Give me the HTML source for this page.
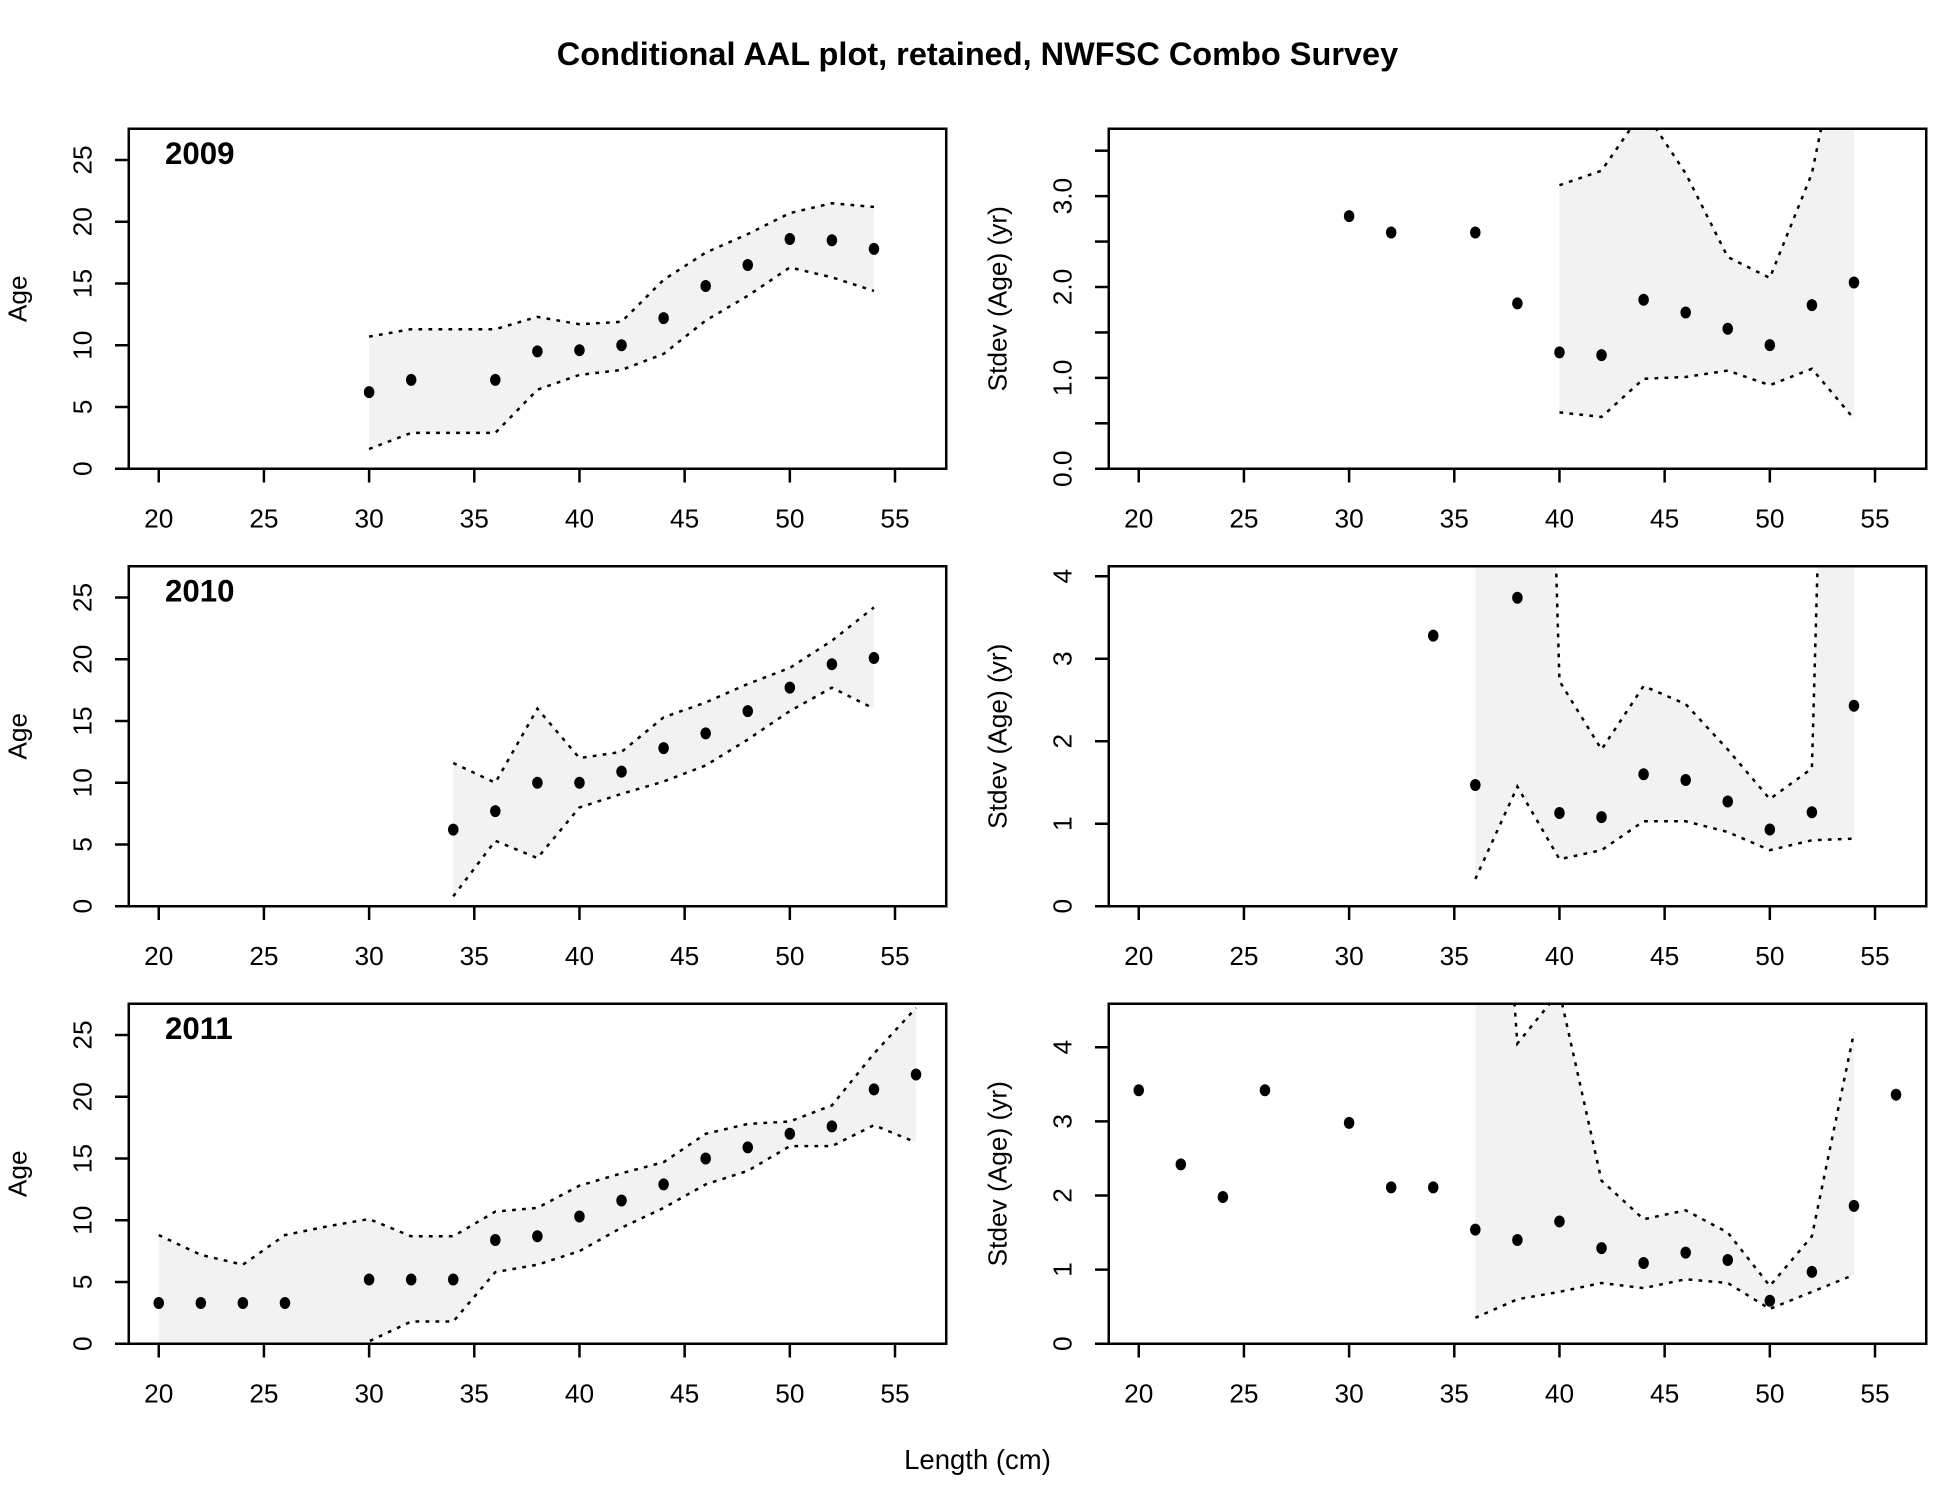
<!DOCTYPE html>
<html><head><meta charset="utf-8"><style>
html,body{margin:0;padding:0;background:#fff;}
svg{display:block;font-family:"Liberation Sans",Arial,sans-serif;}
</style></head><body>
<svg id="chart" width="1950" height="1500" viewBox="0 0 1560 1200" xmlns="http://www.w3.org/2000/svg">
<text x="782" y="52" text-anchor="middle" font-size="26" font-weight="bold">Conditional AAL plot, retained, NWFSC Combo Survey</text>
<text x="782" y="1175" text-anchor="middle" font-size="22">Length (cm)</text>
</svg>
<script>
// ---- data arrays ----
const xTicks = [20,25,30,35,40,45,50,55];
// 2009 age
const a09X = [30,32,36,38,40,42,44,46,48,50,52,54];
const a09Y = [6.2,7.2,7.2,9.5,9.6,10.0,12.2,14.8,16.5,18.6,18.5,17.8];
const a09BX = [30,32,34,36,38,40,42,44,46,48,50,52,54];
const a09Up = [10.7,11.3,11.3,11.3,12.3,11.7,11.9,15.3,17.5,19.0,20.7,21.5,21.2];
const a09Lo = [1.6,2.9,2.9,2.9,6.4,7.6,8.0,9.3,12.0,14.0,16.3,15.5,14.4];
// 2009 sd
const s09X = [30,32,36,38,40,42,44,46,48,50,52,54];
const s09Y = [2.78,2.6,2.6,1.82,1.28,1.25,1.86,1.72,1.54,1.36,1.8,2.05];
const s09BX = [40,42,44,46,48,50,52,54];
const s09Up = [3.12,3.28,3.95,3.25,2.33,2.1,3.25,5.5];
const s09Lo = [0.62,0.57,0.99,1.01,1.08,0.92,1.1,0.55];
// 2010 age
const a10X = [34,36,38,40,42,44,46,48,50,52,54];
const a10Y = [6.2,7.7,10.0,10.0,10.9,12.8,14.0,15.8,17.7,19.6,20.1];
const a10BX = [34,36,38,40,42,44,46,48,50,52,54];
const a10Up = [11.6,10.0,16.0,12.0,12.5,15.3,16.5,18.0,19.3,21.5,24.2];
const a10Lo = [0.8,5.3,3.9,8.0,9.1,10.1,11.4,13.5,15.8,17.7,16.0];
// 2010 sd
const s10X = [34,36,38,40,42,44,46,48,50,52,54];
const s10Y = [3.28,1.47,3.74,1.13,1.08,1.6,1.53,1.27,0.93,1.14,2.43];
const s10BX = [36,38,40,42,44,46,48,50,52,54];
const s10Up = [20,20,2.73,1.9,2.67,2.45,1.9,1.3,1.67,20];
const s10Lo = [0.33,1.45,0.57,0.68,1.03,1.03,0.9,0.68,0.8,0.82];
// 2011 age
const a11X = [20,22,24,26,30,32,34,36,38,40,42,44,46,48,50,52,54,56];
const a11Y = [3.3,3.3,3.3,3.3,5.2,5.2,5.2,8.4,8.7,10.3,11.6,12.9,15.0,15.9,17.0,17.6,20.6,21.8];
const a11BX = [20,22,24,26,28,30,32,34,36,38,40,42,44,46,48,50,52,54,56];
const a11Up = [8.8,7.2,6.4,8.8,9.5,10.1,8.7,8.7,10.7,11.0,12.8,13.8,14.7,17.0,17.8,18.0,19.3,23.5,27.2];
const a11Lo = [-3,-3,-3,-3,-1.5,0.2,1.8,1.8,5.8,6.4,7.5,9.4,11.0,12.9,14.0,16.0,16.0,17.7,16.3];
// 2011 sd
const s11X = [20,22,24,26,30,32,34,36,38,40,42,44,46,48,50,52,54,56];
const s11Y = [3.42,2.42,1.98,3.42,2.98,2.11,2.11,1.54,1.4,1.65,1.29,1.09,1.23,1.13,0.58,0.97,1.86,3.36];
const s11BX = [36,38,40,42,44,46,48,50,52,54];
const s11Up = [12,4.05,4.75,2.2,1.68,1.8,1.5,0.78,1.45,4.2];
const s11Lo = [0.35,0.6,0.7,0.82,0.75,0.87,0.82,0.47,0.7,0.93];
const ageTicks = [0,5,10,15,20,25];
const sd09Ticks = [0,0.5,1,1.5,2,2.5,3,3.5];
const sd09Labels = ["0.0","","1.0","","2.0","","3.0",""];
const sdTicks = [0,1,2,3,4];

const NS = "http://www.w3.org/2000/svg";
const svg = document.getElementById('chart');
function mk(tag, attrs, parent){const e=document.createElementNS(NS,tag);for(const k in attrs)e.setAttribute(k,attrs[k]);(parent||svg).appendChild(e);return e;}

let clipId=0;
function panel(o){
  const L=o.left,R=o.left+654,T=o.top,B=o.top+272;
  const x0=o.left+24, pxPer=(589/35);
  const sx=v=>x0+(v-20)*pxPer;
  const sy=v=>B-v*o.ppu;
  const g=mk('g',{});
  
  
  const cid='clip'+(clipId++);
  const cp=mk('clipPath',{id:cid},g); mk('rect',{x:L,y:T,width:654,height:272},cp);
  const inner=mk('g',{'clip-path':'url(#'+cid+')'},g);
  let d='';
  o.bx.forEach((v,i)=>{d+=(i?'L':'M')+sx(v)+','+sy(o.up[i]);});
  for(let i=o.bx.length-1;i>=0;i--) d+='L'+sx(o.bx[i])+','+sy(o.lo[i]);
  const band=mk('path',{d:d+'Z',fill:'#f2f2f2',stroke:'none'},inner);
  
  
  [o.up,o.lo].forEach((arr,k)=>{
    const pts=o.bx.map((v,i)=>sx(v)+','+sy(arr[i])).join(' ');
    const ln=mk('polyline',{points:pts,fill:'none',stroke:'#000','stroke-width':2,'stroke-dasharray':'3,5'},inner);
    
    
  });
  o.px.forEach((v,i)=>{
    const c=mk('ellipse',{cx:sx(v),cy:sy(o.py[i]),rx:4.2,ry:4.8,fill:'#000'},inner);
    
    
  });
  const fr=mk('rect',{x:L,y:T,width:654,height:272,fill:'none',stroke:'#000','stroke-width':2},g);
  
  
  mk('line',{x1:sx(20),x2:sx(55),y1:B,y2:B,stroke:'#000','stroke-width':2},g);
  xTicks.forEach(t=>{
    mk('line',{x1:sx(t),x2:sx(t),y1:B,y2:B+11,stroke:'#000','stroke-width':2},g);
    const tx=mk('text',{x:sx(t),y:B+47,'text-anchor':'middle','font-size':21},g);
    tx.textContent=t;
    
    
  });
  o.yt.forEach((t,i)=>{
    mk('line',{x1:L-11,x2:L,y1:sy(t),y2:sy(t),stroke:'#000','stroke-width':2},g);
    const lab=o.yl?o.yl[i]:String(t);
    if(lab){
      const tx=mk('text',{x:0,y:0,'text-anchor':'middle','font-size':21,transform:'translate('+(L-30)+','+sy(t)+') rotate(-90)'},g);
      tx.textContent=lab;
      
      
    }
  });
  const yt=mk('text',{x:0,y:0,'text-anchor':'middle','font-size':21,transform:'translate('+(L-82)+','+(T+136)+') rotate(-90)'},g);
  yt.textContent=o.ytitle;
  
  
  if(o.year){
    const yr=mk('text',{x:L+29,y:T+28,'font-size':25,'font-weight':'bold'},g);
    yr.textContent=o.year;
    
    
  }
}
const ageP=9.88;
panel({name:'age-panel-2009',left:103,top:103,ppu:ageP,px:a09X,py:a09Y,bx:a09BX,up:a09Up,lo:a09Lo,yt:ageTicks,ytitle:'Age',year:'2009'});
panel({name:'sd-panel-2009',left:887,top:103,ppu:72.7,px:s09X,py:s09Y,bx:s09BX,up:s09Up,lo:s09Lo,yt:sd09Ticks,yl:sd09Labels,ytitle:'Stdev (Age) (yr)'});
panel({name:'age-panel-2010',left:103,top:453,ppu:ageP,px:a10X,py:a10Y,bx:a10BX,up:a10Up,lo:a10Lo,yt:ageTicks,ytitle:'Age',year:'2010'});
panel({name:'sd-panel-2010',left:887,top:453,ppu:66,px:s10X,py:s10Y,bx:s10BX,up:s10Up,lo:s10Lo,yt:sdTicks,ytitle:'Stdev (Age) (yr)'});
panel({name:'age-panel-2011',left:103,top:803,ppu:ageP,px:a11X,py:a11Y,bx:a11BX,up:a11Up,lo:a11Lo,yt:ageTicks,ytitle:'Age',year:'2011'});
panel({name:'sd-panel-2011',left:887,top:803,ppu:59.3,px:s11X,py:s11Y,bx:s11BX,up:s11Up,lo:s11Lo,yt:sdTicks,ytitle:'Stdev (Age) (yr)'});
</script>
</body></html>
